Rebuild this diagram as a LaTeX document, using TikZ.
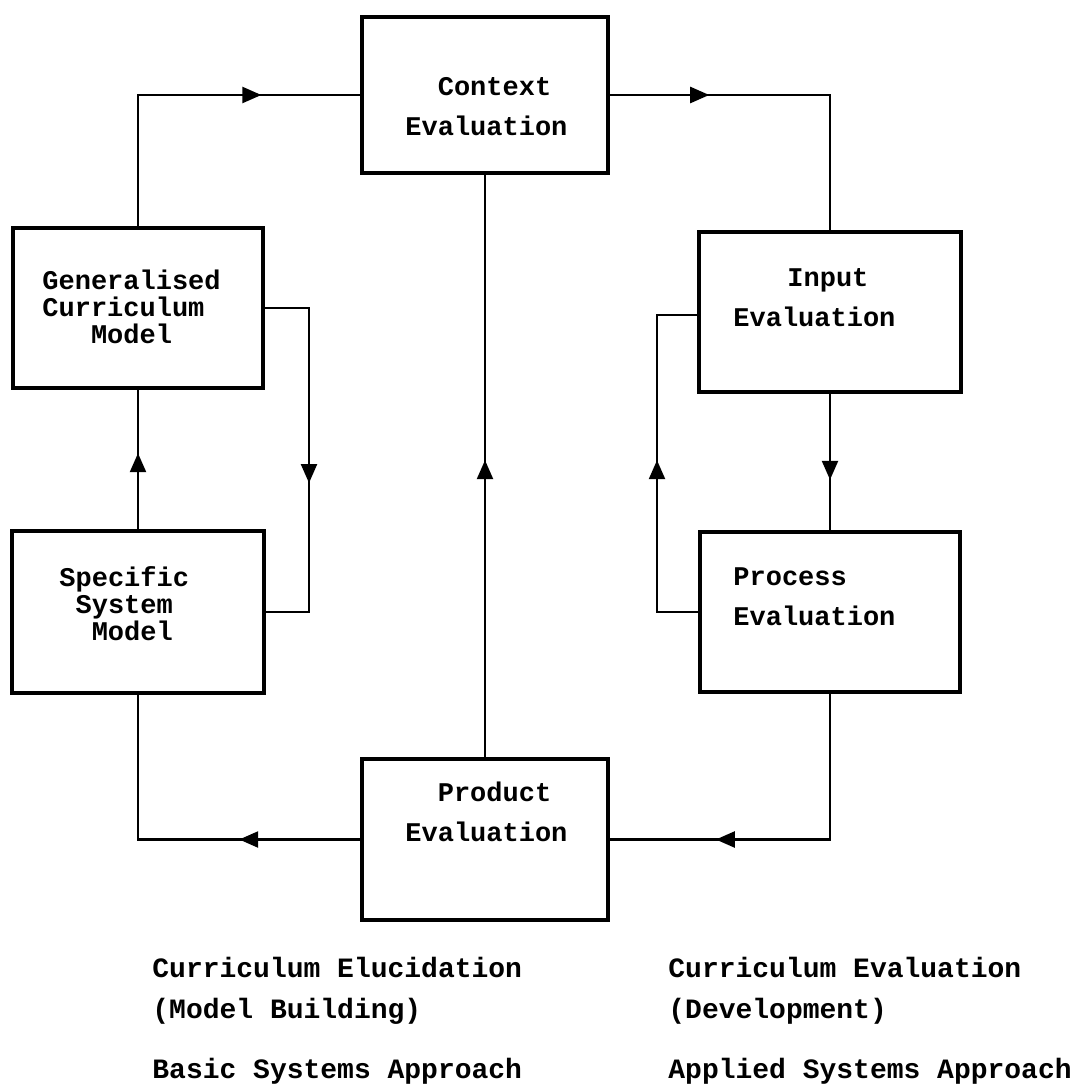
\documentclass[tikz,border=0pt]{standalone}
\usepackage{fontspec}
\setmonofont{Liberation Mono}
\usetikzlibrary{arrows.meta, decorations.markings}

\begin{document}
\begin{tikzpicture}[x=0.5pt, y=-0.5pt,
  box/.style={draw, line width=1.6pt, inner sep=0pt},
  lbl/.style={font=\ttfamily\bfseries\fontsize{13.5}{#1}\selectfont, align=left, anchor=west, inner sep=0pt},
  lbl/.default=20pt,
  note/.style={font=\ttfamily\bfseries\fontsize{14}{20.5}\selectfont, align=left, anchor=west, inner sep=0pt},
  flow/.style={line width=1.2pt},
  midarrow/.style={postaction={decorate}, decoration={markings, mark=at position #1 with {\arrow{Triangle[length=9.5pt, width=8pt]}}}}]
  \useasboundingbox (0,0) rectangle (1074,1091);

  % Evaluation boxes
  \node[box, minimum width=123pt, minimum height=78pt] (ctx) at (485,95) {};
  \node[box, minimum width=131pt, minimum height=80pt] (inp) at (830,312) {};
  \node[box, minimum width=130pt, minimum height=80pt] (prc) at (830,612) {};
  \node[box, minimum width=123pt, minimum height=80.5pt] (prd) at (485,839.5) {};

  % Model boxes
  \node[box, minimum width=125pt, minimum height=80pt] (gen) at (138,308) {};
  \node[box, minimum width=126pt, minimum height=81pt] (spc) at (138,612) {};

  % Box texts
  \node[lbl] (ctxtxt) at (405,107) {\hspace*{1.2em}Context\\Evaluation};
  \node[lbl] (inptxt) at (733,298) {\hspace*{2em}Input\\Evaluation};
  \node[lbl] (prctxt) at (733,597) {Process\\Evaluation};
  \node[lbl] (prdtxt) at (405,812) {\hspace*{1.2em}Product\\Evaluation};
  \node[lbl=13.5pt] (gentxt) at (42,307) {Generalised\\Curriculum\\\hspace*{1.8em}Model};
  \node[lbl=13.5pt] (spctxt) at (59,604) {Specific\\\hspace*{0.6em}System\\\hspace*{1.2em}Model};

  % Outer loop
  \draw[flow, midarrow=0.72] (gen.north) |- (ctx.west);
  \draw[flow, midarrow=0.28] (ctx.east) -| (inp.north);
  \draw[flow, midarrow=0.71] (prc.south) |- (prd.east);
  \draw[flow, midarrow=0.33] (prd.west) -| (spc.south);

  % Centre line
  \draw[flow, midarrow=0.51] (prd.north) -- (ctx.south);

  % Right side
  \coordinate (lpR) at (657,315);
  \draw[flow, midarrow=0.63] (inp.south) -- (prc.north);
  \draw[flow, midarrow=0.51] (prc.west) -| (lpR) -- (inp.west |- lpR);

  % Left side
  \coordinate (lpL) at (309,612);
  \draw[flow, midarrow=0.545] (spc.north) -- (gen.south);
  \draw[flow, midarrow=0.56] (gen.east) -| (lpL) -- (spc.east);

  % Bottom
  \node[note] (elu) at (152,991) {Curriculum Elucidation\\(Model Building)};
  \node[note] (basic) at (152,1071) {Basic Systems Approach};
  \node[note] (evl) at (668,991) {Curriculum Evaluation\\(Development)};
  \node[note] (appl) at (668,1071) {Applied Systems Approach};
\end{tikzpicture}
\end{document}
